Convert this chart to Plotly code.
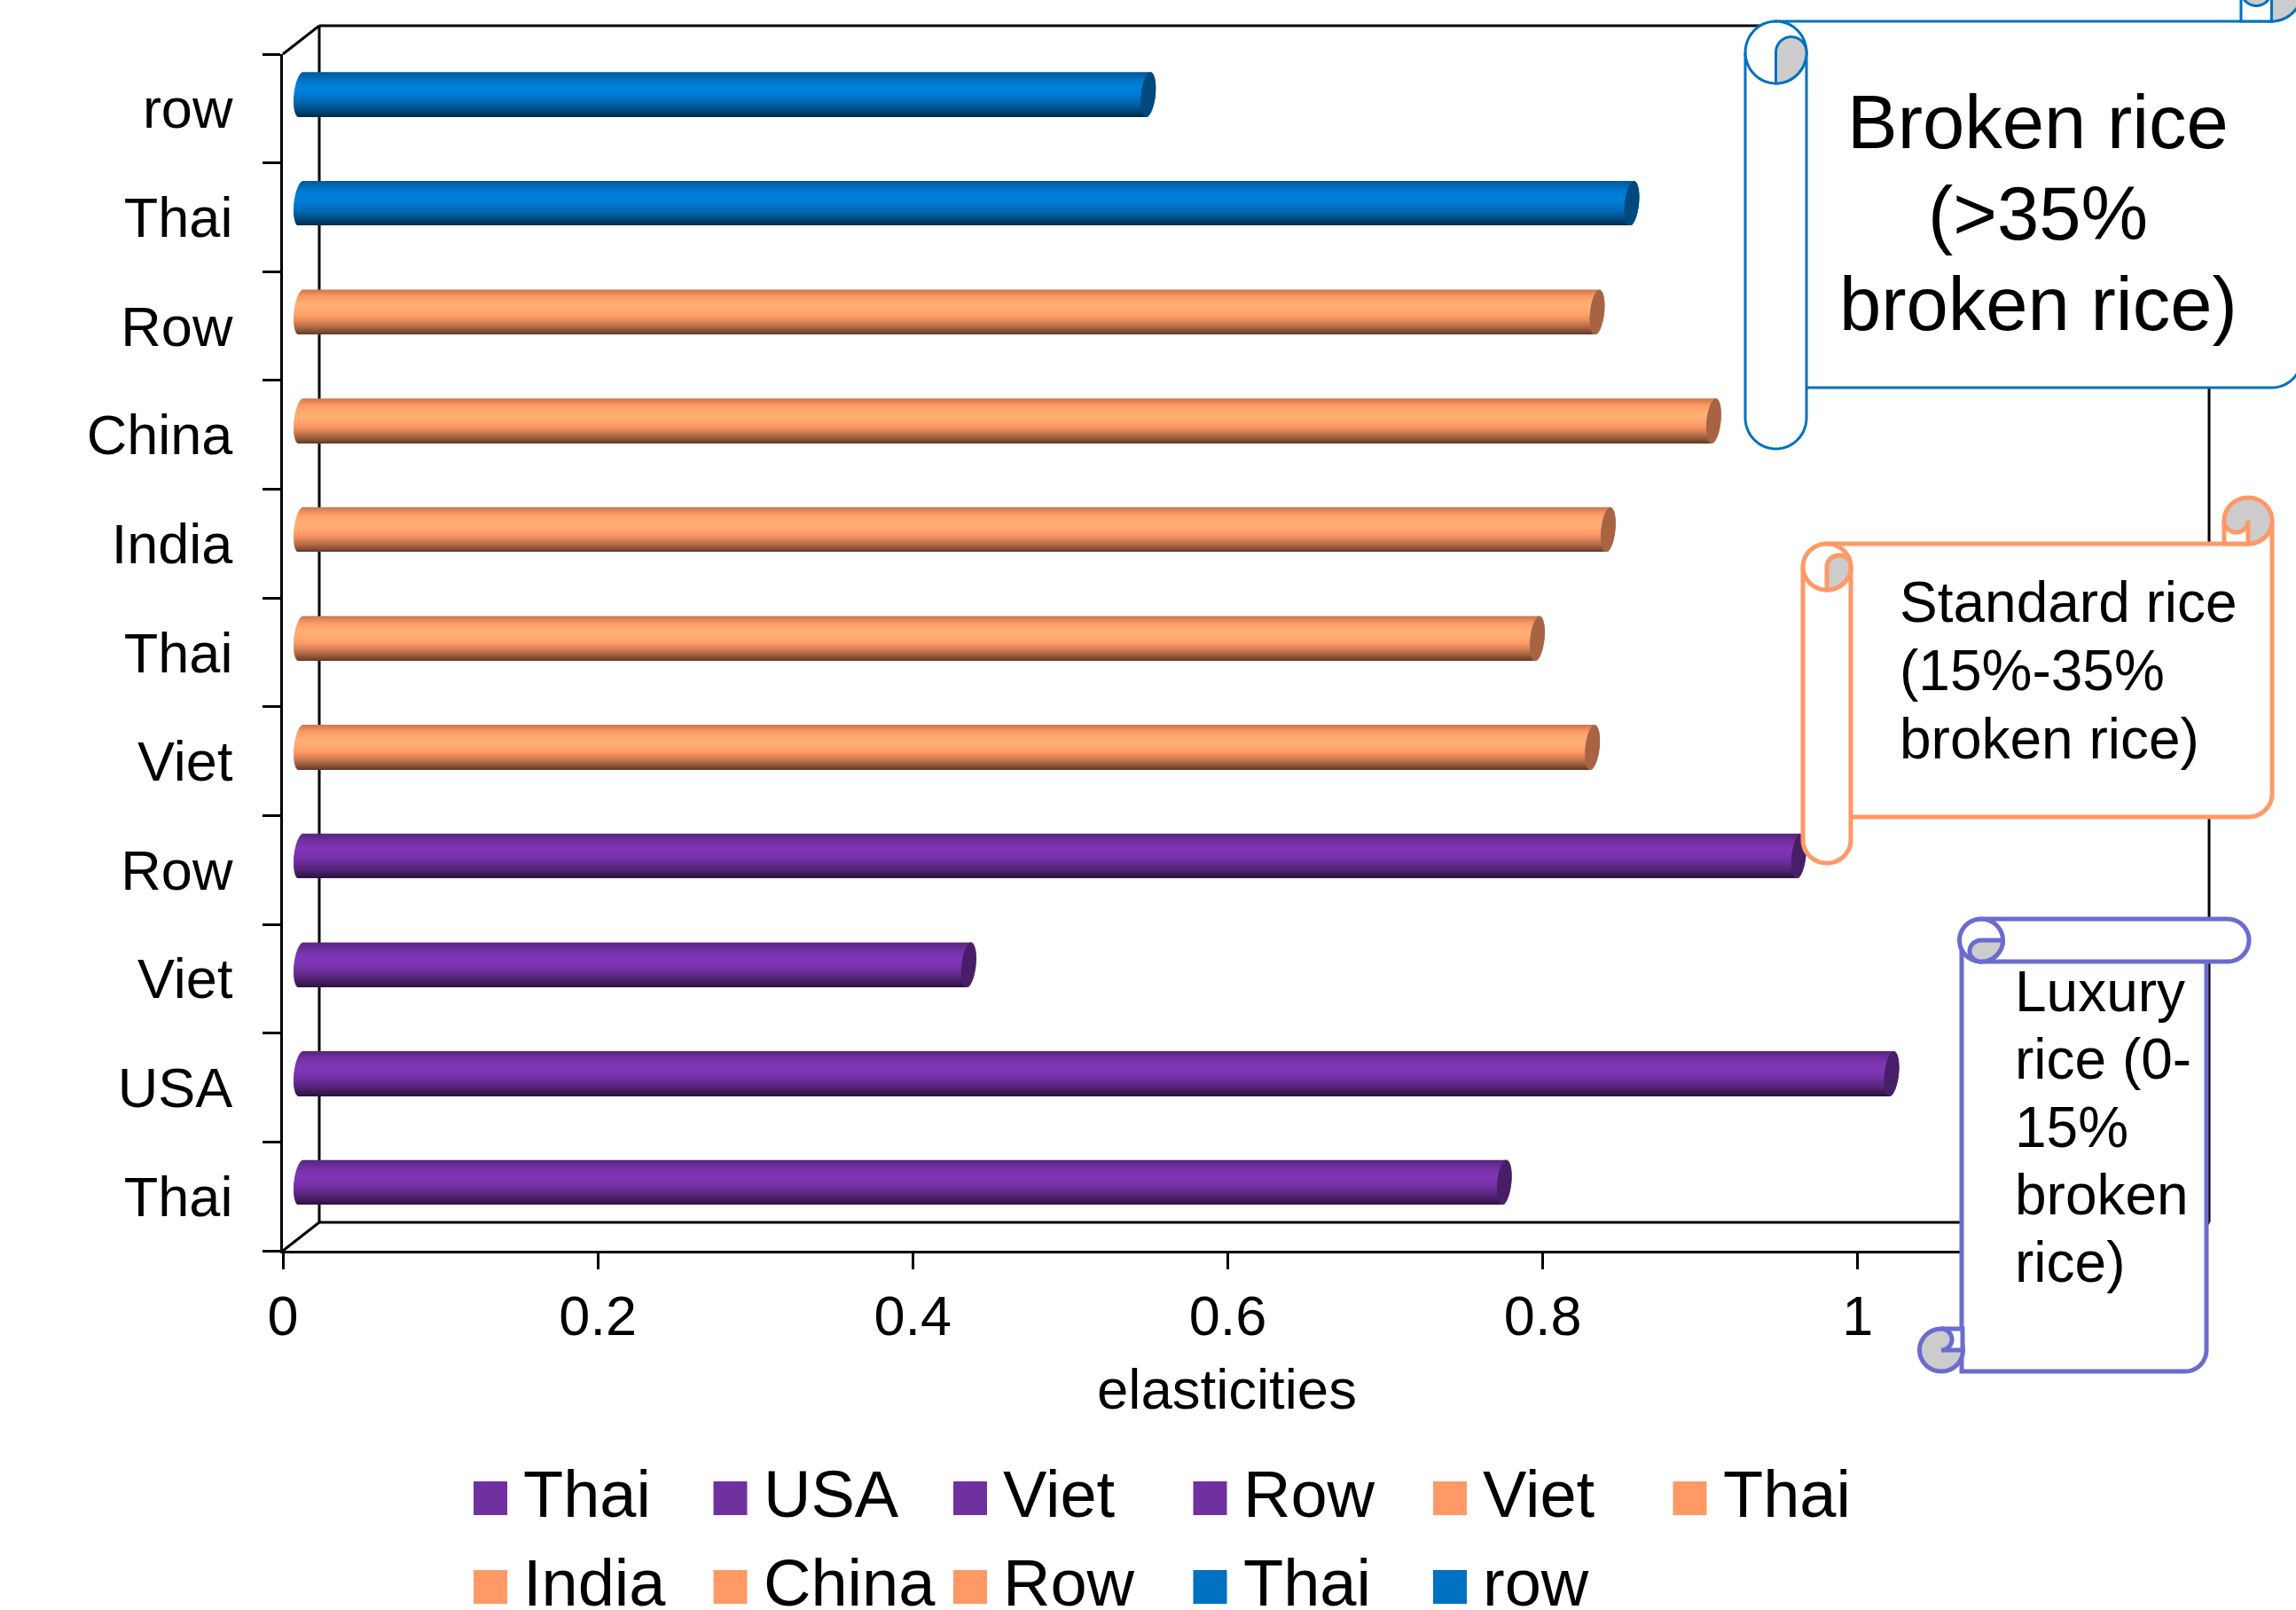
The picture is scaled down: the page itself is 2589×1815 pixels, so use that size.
import math
import plotly.graph_objects as go

W, H = 2589, 1815

# ---- data (bottom to top) ----
bar_ids = ["lux_thai", "lux_usa", "lux_viet", "lux_row", "std_viet", "std_thai",
           "std_india", "std_china", "std_row", "brk_thai", "brk_row"]
bar_labels = ["Thai", "USA", "Viet", "Row", "Viet", "Thai", "India", "China", "Row", "Thai", "row"]
bar_values = [0.764, 1.010, 0.424, 0.951, 0.820, 0.785, 0.830, 0.897, 0.823, 0.845, 0.538]
bar_groups = ["lux", "lux", "lux", "lux", "std", "std", "std", "std", "std", "brk", "brk"]
group_colors = {"lux": (112, 48, 160), "std": (255, 153, 102), "brk": (0, 112, 192)}
x_ticks = [0, 0.2, 0.4, 0.6, 0.8, 1]
x_tick_text = ["0", "0.2", "0.4", "0.6", "0.8", "1"]

FONT = "Liberation Sans"
N = 50                # strips per cylinder
BAR_W = 0.408         # bar thickness in category units
CAP = 0.0045          # half-width of the end ellipse in data units
SKEW = 0.0028         # slant of the end ellipse in data units
PAD = 0.02            # room left of zero for the rounded end


def shade(rgb, m):
    return "rgb(%d,%d,%d)" % tuple(min(255, int(c * m)) for c in rgb)


def profile(t):
    if t < 0.38:
        return 0.78 + (1.14 - 0.78) * math.sin(t / 0.38 * math.pi / 2)
    u = (t - 0.38) / 0.62
    return 1.14 - (1.14 - 0.40) * u ** 1.7


fig = go.Figure()

# invisible carrier for the front axes
fig.add_trace(go.Bar(x=bar_values, y=bar_ids, orientation="h",
                     marker=dict(color="rgba(0,0,0,0)", line=dict(width=0)),
                     showlegend=False, hoverinfo="skip", xaxis="x", yaxis="y"))


def strip_geom(k):
    t = (k + 0.5) / N                       # 0 = top of cylinder
    s = CAP * math.sqrt(max(0, 1 - (2 * t - 1) ** 2))
    step = BAR_W / N
    bottom = BAR_W / 2 - (k + 1) * step
    extra = step if k < N - 1 else 0
    return t, s, SKEW * (0.5 - t), bottom - extra, step + extra


# cylinders: strips of shaded bars on axes shifted to mid depth
for k in range(N):
    t, s, sk, off, wid = strip_geom(k)
    fig.add_trace(go.Bar(
        y=bar_ids, x=[v + s for v in bar_values], base=[sk - s] * len(bar_values),
        orientation="h", width=wid, offset=off,
        marker=dict(color=[shade(group_colors[g], profile(t)) for g in bar_groups], line=dict(width=0)),
        showlegend=False, hoverinfo="skip", xaxis="x2", yaxis="y2"))
for k in range(N):
    t, s, sk, off, wid = strip_geom(k)
    fig.add_trace(go.Bar(
        y=bar_ids, x=[2 * s] * len(bar_values), base=[v + sk - s for v in bar_values],
        orientation="h", width=wid, offset=off,
        marker=dict(color=[shade(group_colors[g], 0.66) for g in bar_groups], line=dict(width=0)),
        showlegend=False, hoverinfo="skip", xaxis="x2", yaxis="y2"))


# ---- helpers in pixel space ----
def px(x):
    return x / W


def py(y):
    return 1 - y / H


def path(points, close=True):
    d = "M" + " L".join(f"{px(x):.5f},{py(y):.5f}" for x, y in points)
    return d + (" Z" if close else "")


def arc(cx, cy, rx, ry, a0, a1, n=28):
    return [(cx + rx * math.cos(math.radians(a0 + (a1 - a0) * i / n)),
             cy + ry * math.sin(math.radians(a0 + (a1 - a0) * i / n))) for i in range(n + 1)]


shapes = []


def add(points, color, lw, fill=None, close=True, layer="above"):
    shapes.append(dict(type="path", xref="paper", yref="paper", path=path(points, close),
                       line=dict(color=color, width=lw),
                       fillcolor=fill if fill else "rgba(0,0,0,0)", layer=layer))


def seg(x0, y0, x1, y1):
    add([(x0, y0), (x1, y1)], "#000000", 3, close=False, layer="below")


# 3-D frame
FL, FR, FT, FB = 319, 2450, 61, 1410
DX, DY = 41, -32
seg(FL + DX, FT + DY, FR + DX, FT + DY)
seg(FL + DX, FB + DY, FR + DX, FB + DY)
seg(FL + DX, FT + DY, FL + DX, FB + DY)
seg(FR + DX, FT + DY, FR + DX, FB + DY)
seg(FL, FT, FL + DX, FT + DY)
seg(FL, FB, FL + DX, FB + DY)
seg(FR, FB, FR + DX, FB + DY)

GREY = "#CCCCCC"


def vscroll(L, T, R, Bb, Bc, rx, ry, c, lw):
    cx, colR = L + rx, L + 2 * rx
    ccx, ccy = R - rx, T - ry
    add([(cx, T), (ccx, T)] + arc(ccx, ccy, rx, ry, 90, 0) + [(R, Bb - ry)] +
        arc(R - rx, Bb - ry, rx, ry, 0, 90) + [(cx, Bb)], c, lw, "#FFFFFF")
    add(arc(ccx, ccy, rx, ry, 0, 360, 60), c, lw, GREY)
    add([(R - 2 * rx, ccy), (R - 2 * rx, T), (ccx, T), (ccx, ccy)], c, lw, "#FFFFFF", close=False)
    add(arc(R - 1.5 * rx, ccy, rx / 2, ry / 2, 0, 180), c, lw, GREY, close=False)
    add([(L, T + ry), (L, Bc - ry)] + arc(cx, Bc - ry, rx, ry, 180, 0) + [(colR, T + ry)] +
        arc(cx, T + ry, rx, ry, 0, -180), c, lw, "#FFFFFF")
    add(arc(cx, T + ry, rx, ry, 180, 0), c, lw, close=False)
    add([(cx, T + 2 * ry), (cx, T + ry)] + arc(cx + rx / 2, T + ry, rx / 2, ry / 2, 180, 360) +
        arc(cx, T + ry, rx, ry, 0, 90), c, lw, GREY)


vscroll(1968, 24, 2596, 437, 506, 34.5, 35, "#0070C0", 3)
vscroll(2033, 613, 2562, 921, 973, 27, 26, "#FF9966", 5)

# luxury scroll (rolled at top and bottom)
V = "#6B6BD0"
VW = 5
add([(2212, 1060), (2212, 1546)] + arc(2464, 1522, 24, 24, 90, 0) + [(2488, 1084)], V, VW, "#FFFFFF")
add([(2234, 1036), (2512, 1036)] + arc(2512, 1060, 24, 24, -90, 90) + [(2234, 1084)], V, VW, "#FFFFFF")
add(arc(2234, 1060, 24.5, 24, 0, 360, 60), V, VW, "#FFFFFF")
add([(2259, 1060), (2234, 1060)] + arc(2234, 1072, 13, 12, 270, 90) + arc(2234, 1060, 24.5, 24, 90, 0),
    V, VW, GREY)
add(arc(2189, 1522, 24.5, 24, 0, 360, 60), V, VW, GREY)
add([(2189, 1498), (2213, 1498), (2213, 1522), (2189, 1522)], V, VW, "#FFFFFF", close=False)
add(arc(2189, 1510, 12, 12, -90, 90), V, VW, GREY, close=False)

# ---- annotations ----
annotations = []


def text(x, baseline, s, size, anchor="left"):
    annotations.append(dict(xref="paper", yref="paper", x=px(x), y=py(baseline - 0.3465 * size),
                            xanchor=anchor, yanchor="middle", text=s, showarrow=False,
                            borderpad=0, font=dict(family=FONT, size=size, color="#000000")))


text(1384, 1588, "elasticities", 63.5, "center")
for s, b in zip(["Broken rice", "(>35%", "broken rice)"], [167, 270, 372]):
    text(2298, b, s, 85, "center")
for s, b in zip(["Standard rice", "(15%-35%", "broken rice)"], [701, 778, 855]):
    text(2141, b, s, 64)
for s, b in zip(["Luxury", "rice (0-", "15%", "broken", "rice)"], [1140, 1216, 1293, 1369, 1445]):
    text(2271, b, s, 64)

# legend built from the chart's own labels and colours
LEG_X, LEG_STEP = 534, 270.5
for i, (lab, g) in enumerate(zip(bar_labels, bar_groups)):
    col, row = i % 6, i // 6
    x = LEG_X + LEG_STEP * col
    yc = 1689 + 100 * row
    shapes.append(dict(type="rect", xref="paper", yref="paper", x0=px(x), x1=px(x + 38),
                       y0=py(yc - 19), y1=py(yc + 19), line=dict(width=0),
                       fillcolor=shade(group_colors[g], 1.0), layer="above"))
    text(x + 55, yc + 21, lab, 74)

axis_font = dict(family=FONT, size=63, color="#000000")
fig.update_layout(
    template="none",
    width=W, height=H, margin=dict(l=0, r=0, t=0, b=0, pad=0), autosize=False,
    paper_bgcolor="#FFFFFF", plot_bgcolor="rgba(0,0,0,0)",
    barmode="overlay", showlegend=False, shapes=shapes, annotations=annotations,
    xaxis=dict(domain=[px(FL), px(FR)], range=[0, 1.2], tickmode="array", tickvals=x_ticks,
               ticktext=x_tick_text, ticks="outside", ticklen=18, tickwidth=3, tickcolor="#000000",
               showline=True, linewidth=3, linecolor="#000000", showgrid=False, zeroline=False,
               tickfont=axis_font, anchor="y", ticklabelstandoff=-2, automargin=False),
    yaxis=dict(domain=[py(FB), py(FT)], type="category", categoryorder="array", categoryarray=bar_ids,
               range=[-0.5, 10.5], tickmode="array", tickvals=bar_ids, ticktext=bar_labels,
               tickson="boundaries", ticks="outside", ticklen=20, tickwidth=3, tickcolor="#000000",
               showline=True, linewidth=3, linecolor="#000000", showgrid=False, zeroline=False,
               tickfont=axis_font, anchor="x", ticklabelstandoff=41, automargin=False),
    xaxis2=dict(domain=[px(FL + DX / 2 - PAD * (FR - FL) / 1.2), px(FR + DX / 2)], range=[-PAD, 1.2],
                visible=False, anchor="y2", automargin=False),
    yaxis2=dict(domain=[py(FB + DY / 2), py(FT + DY / 2)], type="category", categoryorder="array",
                categoryarray=bar_ids, range=[-0.5, 10.5], visible=False, anchor="x2", automargin=False),
)

fig.write_html("out.html", config=dict(displayModeBar=False),
               post_script="document.body.style.margin='0';document.body.style.overflow='hidden';")
